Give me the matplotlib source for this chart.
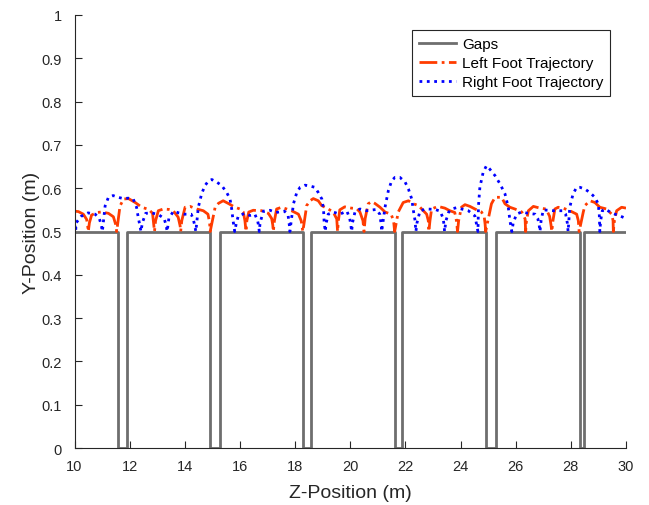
import numpy as np
import matplotlib
matplotlib.use('Agg')
import matplotlib.pyplot as plt

# gap edges along z (m), ground height 0.5 m
gap_start = [11.57, 14.92, 18.30, 21.62, 24.91, 28.32]
gap_end = [11.89, 15.26, 18.59, 21.89, 25.27, 28.48]
ground_y = 0.5

# left foot trajectory (z, y)
left_z = [10.00, 10.14, 10.32, 10.44, 10.48, 10.50,
          10.54, 10.62, 10.81, 10.99, 11.23, 11.41, 11.49, 11.53,
          11.65, 11.78, 11.96, 12.20, 12.44, 12.69, 12.83, 12.87, 12.90,
          12.94, 13.04, 13.22, 13.42, 13.58, 13.76, 13.83, 13.85,
          13.89, 14.01, 14.19, 14.43, 14.67, 14.84, 14.90, 14.92,
          15.10, 15.22, 15.39, 15.57, 15.82, 16.00, 16.12, 16.18, 16.22,
          16.25, 16.32, 16.48, 16.79, 17.03, 17.15, 17.19, 17.21,
          17.25, 17.33, 17.51, 17.69, 17.87, 18.12, 18.22, 18.25, 18.28,
          18.42, 18.54, 18.66, 18.84, 18.96, 19.20, 19.38, 19.51, 19.54,
          19.57, 19.62, 19.80, 20.04, 20.23, 20.35, 20.46, 20.50,
          20.54, 20.65, 20.77, 20.89, 21.08, 21.26, 21.48, 21.57, 21.61,
          21.74, 21.92, 22.11, 22.29, 22.47, 22.59, 22.77, 22.83, 22.85,
          22.89, 22.95, 23.18, 23.43, 23.61, 23.79, 23.85, 23.89,
          23.93, 24.03, 24.16, 24.34, 24.52, 24.76, 24.86, 24.89, 24.91,
          25.06, 25.12, 25.25, 25.49, 25.61, 25.79, 25.97, 26.22, 26.34, 26.36,
          26.39, 26.46, 26.64, 26.88, 27.10, 27.23, 27.28, 27.31,
          27.35, 27.42, 27.54, 27.72, 27.96, 28.21, 28.27, 28.30,
          28.45, 28.51, 28.69, 28.87, 29.05, 29.29, 29.48, 29.53, 29.54,
          29.58, 29.66, 29.84, 30.00]
left_y = [0.547, 0.546, 0.540, 0.528, 0.512, 0.500,
          0.520, 0.538, 0.544, 0.545, 0.542, 0.534, 0.517, 0.500,
          0.559, 0.575, 0.576, 0.567, 0.556, 0.551, 0.542, 0.517, 0.500,
          0.525, 0.548, 0.552, 0.551, 0.548, 0.533, 0.513, 0.500,
          0.525, 0.556, 0.558, 0.552, 0.548, 0.540, 0.520, 0.500,
          0.556, 0.565, 0.571, 0.565, 0.556, 0.552, 0.545, 0.525, 0.500,
          0.525, 0.545, 0.549, 0.548, 0.542, 0.530, 0.515, 0.500,
          0.525, 0.552, 0.556, 0.552, 0.548, 0.540, 0.525, 0.512, 0.500,
          0.560, 0.571, 0.576, 0.571, 0.560, 0.552, 0.545, 0.529, 0.500,
          0.525, 0.550, 0.557, 0.554, 0.553, 0.545, 0.525, 0.500,
          0.530, 0.564, 0.569, 0.565, 0.556, 0.545, 0.540, 0.525, 0.500,
          0.545, 0.567, 0.571, 0.564, 0.560, 0.552, 0.540, 0.525, 0.500,
          0.525, 0.552, 0.558, 0.554, 0.548, 0.544, 0.525, 0.500,
          0.525, 0.556, 0.562, 0.558, 0.552, 0.545, 0.533, 0.517, 0.500,
          0.545, 0.564, 0.579, 0.579, 0.564, 0.556, 0.552, 0.545, 0.529, 0.500,
          0.525, 0.548, 0.558, 0.554, 0.552, 0.535, 0.515, 0.500,
          0.525, 0.552, 0.556, 0.554, 0.548, 0.540, 0.525, 0.500,
          0.545, 0.560, 0.571, 0.567, 0.556, 0.552, 0.540, 0.525, 0.500,
          0.525, 0.548, 0.556, 0.554]

# right foot trajectory (z, y)
right_z = [10.00, 10.02, 10.04,
           10.06, 10.24, 10.49, 10.75, 10.90, 10.97, 11.01,
           11.11, 11.23, 11.40, 11.58, 11.77, 11.95, 12.13, 12.25, 12.31, 12.37, 12.41,
           12.46, 12.58, 12.81, 13.07, 13.25, 13.32, 13.36,
           13.42, 13.59, 13.78, 13.98, 14.23, 14.30, 14.36, 14.40,
           14.49, 14.61, 14.73, 14.86, 14.98, 15.16, 15.34, 15.52, 15.64, 15.70, 15.75, 15.81,
           15.87, 15.94, 16.18, 16.36, 16.54, 16.64, 16.68, 16.70,
           16.73, 16.85, 17.09, 17.31, 17.61, 17.74, 17.79, 17.81,
           17.94, 18.06, 18.18, 18.36, 18.54, 18.72, 18.84, 18.97, 19.03, 19.05, 19.09,
           19.13, 19.20, 19.38, 19.62, 19.88, 19.98, 20.02, 20.05,
           20.08, 20.17, 20.35, 20.59, 20.95, 21.07, 21.12, 21.14,
           21.26, 21.38, 21.50, 21.62, 21.80, 21.99, 22.11, 22.23, 22.29, 22.35, 22.38,
           22.42, 22.53, 22.77, 23.07, 23.26, 23.37, 23.40, 23.42,
           23.47, 23.57, 23.68, 23.85, 24.03, 24.28, 24.52, 24.59, 24.63,
           24.65, 24.70, 24.82, 24.94, 25.06, 25.25, 25.43, 25.61, 25.73, 25.79, 25.86,
           25.91, 26.03, 26.21, 26.46, 26.70, 26.80, 26.85, 26.88,
           26.92, 27.00, 27.36, 27.71, 27.81, 27.87, 27.90,
           27.96, 28.08, 28.21, 28.33, 28.51, 28.69, 28.87, 28.99, 29.03, 29.05,
           29.08, 29.14, 29.24, 29.42, 29.60, 29.78, 30.00]
right_y = [0.530, 0.515, 0.500,
           0.520, 0.535, 0.543, 0.540, 0.530, 0.515, 0.500,
           0.559, 0.579, 0.583, 0.579, 0.576, 0.577, 0.575, 0.556, 0.533, 0.514, 0.500,
           0.520, 0.542, 0.543, 0.538, 0.530, 0.515, 0.500,
           0.530, 0.547, 0.543, 0.540, 0.540, 0.530, 0.514, 0.500,
           0.556, 0.587, 0.606, 0.617, 0.620, 0.614, 0.606, 0.590, 0.575, 0.552, 0.525, 0.500,
           0.520, 0.536, 0.542, 0.537, 0.540, 0.525, 0.512, 0.500,
           0.520, 0.547, 0.549, 0.544, 0.547, 0.540, 0.515, 0.500,
           0.564, 0.590, 0.602, 0.607, 0.605, 0.602, 0.590, 0.575, 0.552, 0.525, 0.500,
           0.520, 0.540, 0.545, 0.540, 0.547, 0.530, 0.515, 0.500,
           0.520, 0.545, 0.552, 0.548, 0.551, 0.540, 0.517, 0.500,
           0.556, 0.594, 0.617, 0.625, 0.625, 0.614, 0.598, 0.575, 0.548, 0.525, 0.500,
           0.520, 0.548, 0.552, 0.551, 0.547, 0.530, 0.515, 0.500,
           0.525, 0.545, 0.552, 0.555, 0.552, 0.548, 0.536, 0.513, 0.500,
           0.560, 0.602, 0.637, 0.652, 0.644, 0.629, 0.610, 0.587, 0.556, 0.525, 0.500,
           0.520, 0.540, 0.545, 0.542, 0.540, 0.530, 0.515, 0.500,
           0.525, 0.550, 0.548, 0.548, 0.540, 0.520, 0.500,
           0.556, 0.587, 0.602, 0.602, 0.598, 0.590, 0.579, 0.564, 0.540, 0.500,
           0.525, 0.548, 0.552, 0.545, 0.540, 0.536, 0.530]

x_ticks = [10, 12, 14, 16, 18, 20, 22, 24, 26, 28, 30]
y_ticks = [0, 0.1, 0.2, 0.3, 0.4, 0.5, 0.6, 0.7, 0.8, 0.9, 1]
y_ticklabels = ['0', '0.1', '0.2', '0.3', '0.4', '0.5', '0.6', '0.7', '0.8', '0.9', '1']

plt.rcParams['font.family'] = ['Liberation Sans', 'DejaVu Sans']

# build the ground profile with the gaps dropping to zero
gap_z = [10]
gap_y = [ground_y]
for s, e in zip(gap_start, gap_end):
    gap_z += [s, s, e, e]
    gap_y += [ground_y, 0, 0, ground_y]
gap_z.append(30)
gap_y.append(ground_y)

fig = plt.figure(figsize=(6.49, 5.06), dpi=100)
ax = fig.add_axes([0.1148, 0.1126, 0.8498, 0.8558])

ax.plot(gap_z, gap_y, color='#6e6e6e', lw=2, label='Gaps')
ax.plot(left_z, left_y, color='#ff3c00', lw=2, linestyle='-.', label='Left Foot Trajectory')
ax.plot(right_z, right_y, color='#0000ff', lw=2, linestyle=':', label='Right Foot Trajectory')

ax.set_xlim(10, 30)
ax.set_ylim(0, 1)
ax.set_xticks(x_ticks)
ax.set_yticks(y_ticks)
ax.set_yticklabels(y_ticklabels)
ax.tick_params(direction='in', length=5, width=0.8, labelsize=10.5,
               colors='#262626')
ax.tick_params(axis='x', pad=8)
ax.tick_params(axis='y', pad=9)
for side in ['top', 'right']:
    ax.spines[side].set_visible(False)
for side in ['left', 'bottom']:
    ax.spines[side].set_color('#262626')
    ax.spines[side].set_linewidth(0.8)

ax.set_xlabel('Z-Position (m)', fontsize=14, color='#262626', labelpad=8)
ax.set_ylabel('Y-Position (m)', fontsize=14, color='#262626', labelpad=1)

leg = ax.legend(loc='upper right', bbox_to_anchor=(0.971, 0.965), fontsize=11,
                fancybox=False, framealpha=1, edgecolor='#262626',
                handlelength=2.4, borderpad=0.45, labelspacing=0.33,
                handletextpad=0.4, borderaxespad=0)
leg.get_frame().set_linewidth(0.8)

fig.savefig('out.png', dpi=100)
